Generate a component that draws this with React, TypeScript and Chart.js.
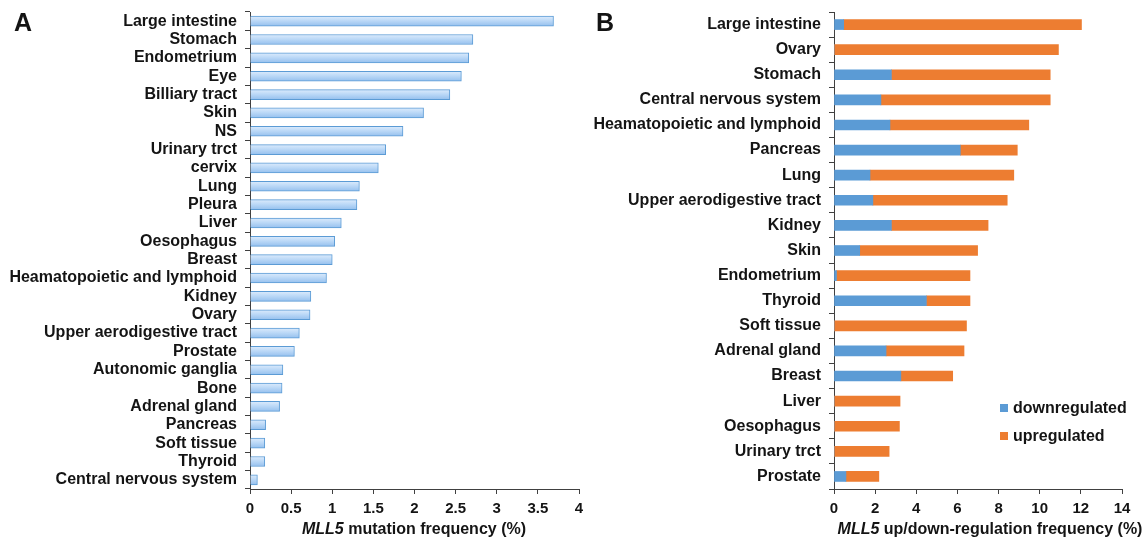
import React, { useEffect, useRef } from 'react';
import { Chart, registerables } from 'chart.js';

Chart.register(...registerables);

// ---- Panel A data ----
const mutationCategories = [
  'Large intestine', 'Stomach', 'Endometrium', 'Eye', 'Billiary tract', 'Skin', 'NS',
  'Urinary trct', 'cervix', 'Lung', 'Pleura', 'Liver', 'Oesophagus', 'Breast',
  'Heamatopoietic and lymphoid', 'Kidney', 'Ovary', 'Upper aerodigestive tract', 'Prostate',
  'Autonomic ganglia', 'Bone', 'Adrenal gland', 'Pancreas', 'Soft tissue', 'Thyroid',
  'Central nervous system',
];
const mutationValues = [
  3.69, 2.71, 2.66, 2.57, 2.43, 2.11, 1.86, 1.65, 1.56, 1.33, 1.30, 1.11, 1.03, 1.00,
  0.93, 0.74, 0.73, 0.60, 0.54, 0.40, 0.39, 0.36, 0.19, 0.18, 0.18, 0.09,
];
const mutationAxisTitle = ['MLL5', ' mutation frequency (%)'];

// ---- Panel B data ----
const regCategories = [
  'Large intestine', 'Ovary', 'Stomach', 'Central nervous system', 'Heamatopoietic and lymphoid',
  'Pancreas', 'Lung', 'Upper aerodigestive tract', 'Kidney', 'Skin', 'Endometrium', 'Thyroid',
  'Soft tissue', 'Adrenal gland', 'Breast', 'Liver', 'Oesophagus', 'Urinary trct', 'Prostate',
];
const downregulated = [
  0.47, 0, 2.79, 2.28, 2.72, 6.14, 1.75, 1.89, 2.79, 1.25, 0.12, 4.49, 0, 2.53, 3.25, 0, 0, 0, 0.58,
];
const upregulated = [
  11.56, 10.91, 7.72, 8.23, 6.75, 2.77, 6.99, 6.53, 4.70, 5.73, 6.49, 2.12, 6.44, 3.79, 2.52,
  3.21, 3.18, 2.68, 1.60,
];
const seriesNames = ['downregulated', 'upregulated'];
const seriesColors = ['#5b9bd5', '#ed7d31'];
const regAxisTitle = ['MLL5', ' up/down-regulation frequency (%)'];

const FONT = '"Liberation Sans", Arial, Helvetica, sans-serif';
const TEXT = '#141414';
const AXIS = '#404040';

const gradientFill = (ctx: any) => {
  const chart = ctx.chart;
  const yScale = chart.scales && chart.scales.y;
  if (!yScale || ctx.dataIndex === undefined) return '#bcd9f7';
  const cy = yScale.getPixelForValue(ctx.dataIndex);
  if (!Number.isFinite(cy)) return '#bcd9f7';
  const g = chart.ctx.createLinearGradient(0, cy - 5, 0, cy + 5);
  g.addColorStop(0, '#dcebfc');
  g.addColorStop(0.45, '#bcd9f7');
  g.addColorStop(1, '#95c0ee');
  return g;
};

const numLabel = (v: any) => String(Number(v));

function xAxis(max: number, step: number) {
  return {
    type: 'linear',
    stacked: true,
    min: 0,
    max,
    border: { display: true, color: AXIS, width: 1 },
    ticks: {
      stepSize: step,
      color: TEXT,
      font: { family: FONT, size: 15, weight: 'bold' },
      padding: 6,
      maxRotation: 0,
      autoSkip: false,
      callback: numLabel,
    },
    grid: { display: true, drawOnChartArea: false, drawTicks: true, tickLength: 5, color: AXIS },
    afterFit: (s: any) => { s.height = 49; s.paddingLeft = 0; s.paddingRight = 0; },
  };
}

function yAxis(width: number) {
  return {
    type: 'category',
    stacked: true,
    border: { display: true, color: AXIS, width: 1 },
    ticks: {
      color: TEXT,
      font: { family: FONT, size: 16, weight: 'bold' },
      padding: 8,
      autoSkip: false,
    },
    grid: { display: true, drawOnChartArea: false, drawTicks: true, tickLength: 5, color: AXIS, offset: true },
    afterFit: (s: any) => { s.width = width; s.paddingTop = 0; s.paddingBottom = 0; },
  };
}

function PanelA() {
  const ref = useRef<HTMLCanvasElement>(null);
  useEffect(() => {
    if (!ref.current) return;
    const chart = new Chart(ref.current, {
      type: 'bar',
      data: {
        labels: mutationCategories,
        datasets: [
          {
            data: mutationValues,
            backgroundColor: gradientFill as any,
            borderColor: '#5b9bd5',
            borderWidth: 1,
            barThickness: 10,
          },
        ],
      },
      options: {
        indexAxis: 'y',
        animation: false,
        responsive: false,
        maintainAspectRatio: false,
        layout: { padding: { top: 12, right: 11, left: 0, bottom: 0 } },
        plugins: { legend: { display: false }, tooltip: { enabled: false } },
        scales: { x: xAxis(4, 0.5) as any, y: yAxis(250) as any },
      },
    });
    chart.update();
    return () => chart.destroy();
  }, []);
  return (
    <canvas ref={ref} width={590} height={538}
      style={{ position: 'absolute', left: 0, top: 0, width: 590, height: 538 }} />
  );
}

function PanelB() {
  const ref = useRef<HTMLCanvasElement>(null);
  useEffect(() => {
    if (!ref.current) return;
    const chart = new Chart(ref.current, {
      type: 'bar',
      data: {
        labels: regCategories,
        datasets: [
          { label: seriesNames[0], data: downregulated, backgroundColor: seriesColors[0], barThickness: 10 },
          { label: seriesNames[1], data: upregulated, backgroundColor: seriesColors[1], barThickness: 10 },
        ],
      },
      options: {
        indexAxis: 'y',
        animation: false,
        responsive: false,
        maintainAspectRatio: false,
        layout: { padding: { top: 12, right: 24, left: 0, bottom: 0 } },
        plugins: { legend: { display: false }, tooltip: { enabled: false } },
        scales: { x: xAxis(14, 2) as any, y: yAxis(254) as any },
      },
    });
    return () => chart.destroy();
  }, []);
  return (
    <canvas ref={ref} width={566} height={538}
      style={{ position: 'absolute', left: 580, top: 0, width: 566, height: 538 }} />
  );
}

const textBase: React.CSSProperties = {
  position: 'absolute',
  fontFamily: FONT,
  fontWeight: 'bold',
  color: TEXT,
  whiteSpace: 'nowrap',
};

export default function App() {
  return (
    <div style={{ position: 'fixed', left: 0, top: 0, width: 1146, height: 538, background: '#fff', overflow: 'hidden' }}>
      <PanelA />
      <PanelB />
      <div style={{ ...textBase, left: 14, top: 10, fontSize: 25, lineHeight: '25px' }}>A</div>
      <div style={{ ...textBase, left: 596, top: 10, fontSize: 25, lineHeight: '25px' }}>B</div>
      <div style={{ ...textBase, left: 414, top: 521, fontSize: 16, lineHeight: '16px', transform: 'translateX(-50%)' }}>
        <i>{mutationAxisTitle[0]}</i>{mutationAxisTitle[1]}
      </div>
      <div style={{ ...textBase, left: 990, top: 521, fontSize: 16, lineHeight: '16px', transform: 'translateX(-50%)' }}>
        <i>{regAxisTitle[0]}</i>{regAxisTitle[1]}
      </div>
      {seriesNames.map((name, i) => (
        <div key={name} style={{ ...textBase, left: 1000, top: 399 + i * 28, fontSize: 16, lineHeight: '18px', display: 'flex', alignItems: 'center' }}>
          <span style={{ display: 'inline-block', width: 8, height: 8, background: seriesColors[i], marginRight: 5 }} />
          {name}
        </div>
      ))}
    </div>
  );
}
